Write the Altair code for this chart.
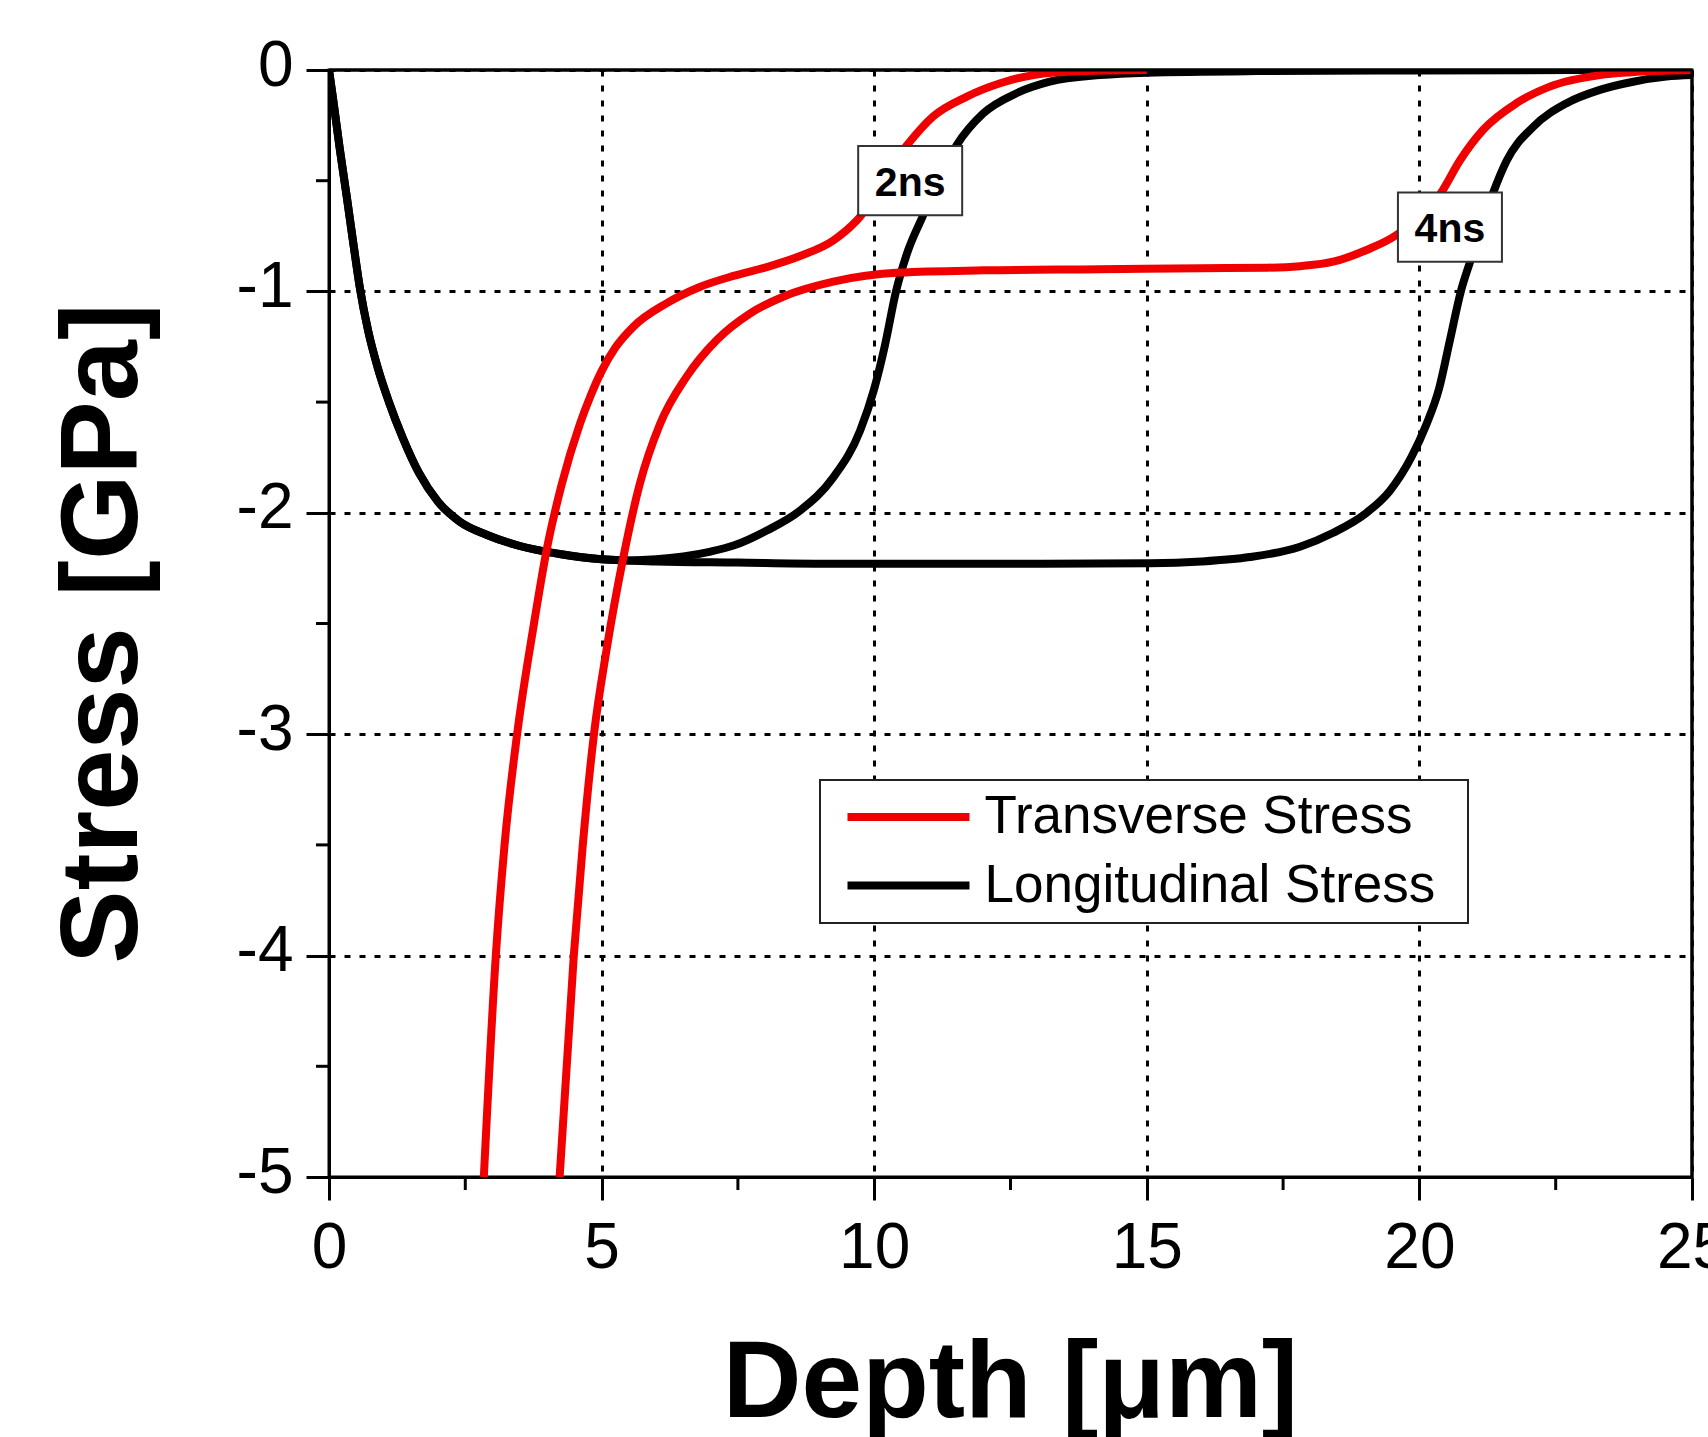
import altair as alt
import pandas as pd

# ---------------- data ----------------
# Longitudinal stress: common surface part (shared by 2 ns and 4 ns profiles)
long_shared_depth = [0.0, 0.08, 0.2, 0.33, 0.45, 0.57, 0.72, 0.9, 1.1, 1.35, 1.65, 2.0,
                     2.4, 2.9, 3.5, 4.2, 5.0]
long_shared_stress = [0.0, -0.14, -0.36, -0.58, -0.79, -0.99, -1.18, -1.35, -1.50, -1.66, -1.82, -1.95,
                      -2.04, -2.10, -2.15, -2.185, -2.21]

long_2ns_depth = [5.5, 6.0, 6.5, 7.0, 7.42, 8.03, 8.64, 9.25, 9.74, 10.0, 10.2, 10.4, 10.6, 10.9,
                  11.2, 11.51, 12.0, 12.61, 13.22, 14.14, 15.0, 17.0, 20.0, 25.0]
long_2ns_stress = [-2.215, -2.21, -2.197, -2.175, -2.148, -2.08, -1.99, -1.84, -1.63, -1.44, -1.24, -1.0,
                   -0.83, -0.655, -0.48, -0.34, -0.196, -0.105, -0.053, -0.023, -0.012, -0.005, -0.002, 0.0]

long_4ns_depth = [6.0, 7.5, 9.0, 11.0, 13.0, 15.06, 16.0, 16.89, 17.81, 18.42, 19.03, 19.46,
                  19.85, 20.13, 20.36, 20.56, 20.76, 20.93, 21.15, 21.36, 21.6, 22.09, 22.7,
                  23.31, 23.92, 24.53, 25.0]
long_4ns_stress = [-2.22, -2.225, -2.23, -2.23, -2.23, -2.228, -2.22, -2.20, -2.153, -2.09, -2.0, -1.90,
                   -1.75, -1.60, -1.44, -1.22, -1.0, -0.866, -0.70, -0.55, -0.41, -0.256, -0.15,
                   -0.09, -0.053, -0.03, -0.023]

trans_2ns_depth = [2.84, 3.06, 3.22, 3.45, 3.76, 3.99, 4.27, 4.6, 4.8, 5.0, 5.25, 5.58, 6.19,
                   6.8, 7.42, 8.03, 8.64, 9.25, 9.68, 10.6, 11.08, 11.7, 12.31, 12.92, 13.8, 15.0]
trans_2ns_stress = [-5.0, -4.0, -3.5, -3.0, -2.5, -2.17, -1.87, -1.60, -1.47, -1.36, -1.255, -1.16, -1.054,
                    -0.98, -0.93, -0.89, -0.84, -0.77, -0.68, -0.34, -0.21, -0.12, -0.06, -0.023,
                    -0.005, 0.0]

trans_4ns_depth = [4.23, 4.49, 4.655, 4.86, 5.09, 5.4, 5.7, 6.07, 6.56, 7.11, 7.72, 8.33, 9.25,
                   10.47, 12.0, 14.14, 16.0, 17.2, 17.81, 18.42, 19.03, 19.58, 20.41, 20.74,
                   21.17, 21.78, 22.39, 23.31, 23.9, 25.0]
trans_4ns_stress = [-5.0, -4.0, -3.5, -3.0, -2.62, -2.20, -1.87, -1.60, -1.385, -1.22, -1.10, -1.024,
                    -0.956, -0.915, -0.905, -0.90, -0.895, -0.893, -0.886, -0.866, -0.813, -0.745,
                    -0.55, -0.41, -0.27, -0.15, -0.075, -0.023, -0.01, 0.0]

series_names = ["Transverse Stress", "Longitudinal Stress"]
series_colors = ["#f00000", "#000000"]

ann_labels = ["2ns", "4ns"]
ann_depth = [10.66, 20.56]
ann_stress = [-0.50, -0.71]

x_ticks = [0, 5, 10, 15, 20, 25]
y_ticks = [0, -1, -2, -3, -4, -5]
x_minor = [2.5, 7.5, 12.5, 17.5, 22.5]
y_minor = [-0.5, -1.5, -2.5, -3.5, -4.5]

# ---------------- tables ----------------
rows = []
def add(kind, time, xs, ys):
    for i, (x, y) in enumerate(zip(xs, ys)):
        rows.append({"depth": x, "stress": y, "kind": kind, "time": time, "idx": i})

add("Longitudinal Stress", "2ns", long_shared_depth + long_2ns_depth, long_shared_stress + long_2ns_stress)
add("Longitudinal Stress", "4ns", long_shared_depth + long_4ns_depth, long_shared_stress + long_4ns_stress)
add("Transverse Stress", "2ns", trans_2ns_depth, trans_2ns_stress)
add("Transverse Stress", "4ns", trans_4ns_depth, trans_4ns_stress)
df = pd.DataFrame(rows)
df_black = df[df.kind == "Longitudinal Stress"]
df_red = df[df.kind == "Transverse Stress"]

ann = pd.DataFrame({"label": ann_labels, "depth": ann_depth, "stress": ann_stress})
xminor_df = pd.DataFrame({"depth": x_minor})
yminor_df = pd.DataFrame({"stress": y_minor})
top_df = pd.DataFrame({"depth": [0], "depth2": [25], "stress": [0]})
right_df = pd.DataFrame({"depth": [25], "stress": [0], "stress2": [-5]})

W, H = 1363, 1107
FONT = "Liberation Sans"

xscale = alt.Scale(domain=[0, 25], nice=False, zero=False)
yscale = alt.Scale(domain=[-5, 0], nice=False, zero=False)
cscale = alt.Scale(domain=series_names, range=series_colors)

x_axis = alt.Axis(values=x_ticks, title="Depth [μm]", grid=True, gridDash=[6, 9], gridColor="black",
                  gridWidth=3, gridOpacity=1, tickSize=23, tickWidth=3, tickColor="black",
                  domainWidth=3, domainColor="black", labelFont=FONT, labelFontSize=64,
                  labelColor="black", labelBaseline="alphabetic", labelPadding=67,
                  labelFlush=False, labelOverlap=False, labelBound=False,
                  titleFont=FONT, titleFontSize=109, titleFontWeight="bold", titleColor="black",
                  titleX=681, titleY=239, titleAlign="center", titleBaseline="alphabetic", titleAngle=0)
y_axis = alt.Axis(values=y_ticks, title="Stress [GPa]", grid=True, gridDash=[6, 9], gridColor="black",
                  gridWidth=3, gridOpacity=1, tickSize=23, tickWidth=3, tickColor="black",
                  domainWidth=3, domainColor="black", labelFont=FONT, labelFontSize=64,
                  labelColor="black", labelPadding=13, labelOffset=-4, labelFlush=False,
                  labelOverlap=False, labelBound=False,
                  labelExpr="datum.value == 0 ? '0' : '-' + format(abs(datum.value), 'd')",
                  titleFont=FONT, titleFontSize=110, titleFontWeight="bold", titleColor="black",
                  titleX=-193, titleY=563, titleAlign="center", titleBaseline="alphabetic", titleAngle=270)

# an invisible one-character title on the right gives the legend box its right margin
legend = alt.Legend(title=".", titleOrient="right", titleFontSize=4, titleColor="white",
                    titlePadding=20, orient="none", legendX=491, legendY=710, symbolType="stroke",
                    symbolStrokeWidth=8, symbolSize=14884, labelFont=FONT, labelFontSize=53,
                    labelColor="black", labelLimit=2000, strokeColor="#222222", fillColor="white",
                    padding=10.5, labelOffset=11, rowPadding=14.5, symbolOffset=13, clipHeight=53)

X = alt.X("depth:Q", scale=xscale, axis=x_axis)
Y = alt.Y("stress:Q", scale=yscale, axis=y_axis)
C = alt.Color("kind:N", scale=cscale, legend=legend)

black = alt.Chart(df_black).mark_line(strokeWidth=8, clip=True, interpolate="monotone").encode(
    x=X, y=Y, color=C, detail="time:N", order="idx:Q")
red = alt.Chart(df_red).mark_line(strokeWidth=8, clip=True, interpolate="monotone").encode(
    x=X, y=Y, color=C, detail="time:N", order="idx:Q")

top_rule = alt.Chart(top_df).mark_rule(color="black", strokeWidth=3).encode(
    x=X, x2="depth2:Q", y=Y)
right_rule = alt.Chart(right_df).mark_rule(color="black", strokeWidth=3).encode(
    x=X, y=Y, y2="stress2:Q")

xminor = alt.Chart(xminor_df).mark_rule(color="black", strokeWidth=3).encode(
    x=X, y=alt.value(H), y2=alt.value(H + 13))
yminor = alt.Chart(yminor_df).mark_rule(color="black", strokeWidth=3).encode(
    y=Y, x=alt.value(0), x2=alt.value(-13))

boxes = alt.Chart(ann).mark_point(shape="M-1,-0.665H1V0.665H-1Z", size=10816, filled=True,
                                  fill="white", stroke="#333333", strokeWidth=2, opacity=1).encode(
    x=X, y=Y)
texts = alt.Chart(ann).mark_text(font=FONT, fontSize=41, fontWeight="bold", baseline="alphabetic",
                                 align="center", dy=15, color="black").encode(
    x=X, y=Y, text="label:N")

chart = alt.layer(black, red, top_rule, right_rule, xminor, yminor, boxes, texts).properties(
    width=W, height=H,
    padding={"left": 329, "top": 70, "right": 16, "bottom": 260},
    autosize=alt.AutoSizeParams(type="none"),
    background="white",
).configure_view(stroke="black", strokeWidth=3).configure_legend(strokeWidth=2)

chart.save("out.html", embed_options={"renderer": "svg", "actions": False})
